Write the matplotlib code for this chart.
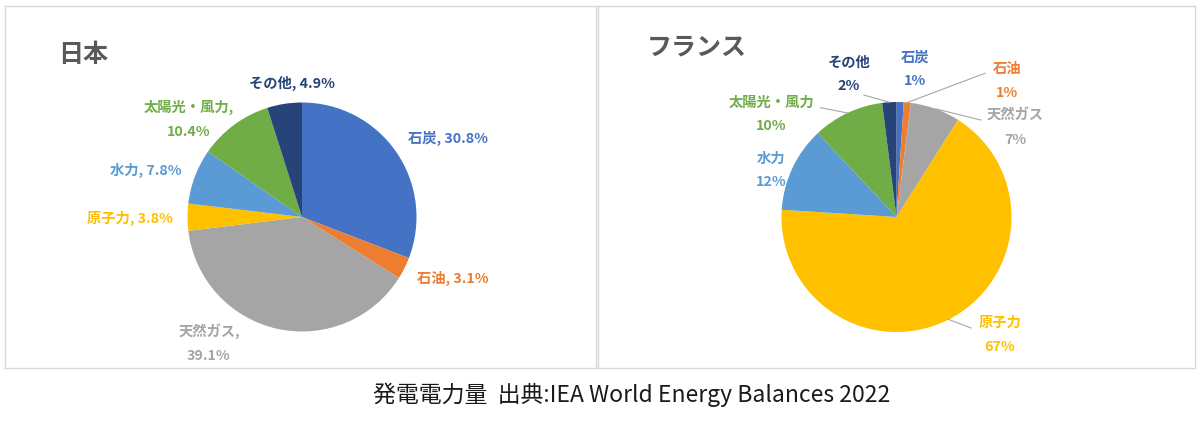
import matplotlib
matplotlib.use("Agg")
import matplotlib.pyplot as plt
import numpy as np

plt.rcParams['font.family'] = ['Noto Sans CJK JP', 'DejaVu Sans']

# data
sources = ['石炭', '石油', '天然ガス', '原子力', '水力', '太陽光・風力', 'その他']
japan = [30.8, 3.1, 39.1, 3.8, 7.8, 10.4, 4.9]
france = [1, 1, 7, 67, 12, 10, 2]
colors = ['#4472C4', '#ED7D31', '#A5A5A5', '#FFC000', '#5B9BD5', '#70AD47', '#264478']

# label layout (pie radius units)
jp_label_pos = [(1.275, 0.69), (1.319, -0.541), (-0.812, -1.10), (-1.502, -0.009),
                (-1.362, 0.41), (-0.991, 0.852), (-0.087, 1.17)]
jp_wrap = ['天然ガス', '太陽光・風力']
fr_label_pos = [(0.157, 1.283), (0.961, 1.183), (1.03, 0.778), (0.90, -1.026),
                (-1.091, 0.404), (-1.091, 0.891), (-0.413, 1.239)]
# leader line end points for france, None = no line
fr_leader_end = [None, (0.77, 1.25), (0.735, 0.843), (0.648, -0.965),
                 None, (-0.66, 0.95), (-0.283, 1.06)]

fig = plt.figure(figsize=(12, 4.26), dpi=100)
W, H = 1200, 426


def finish(ax, xlim, ylim):
    ax.set_xlim(*xlim)
    ax.set_ylim(*ylim)
    ax.set_aspect('auto')
    ax.set_frame_on(True)
    ax.set_xticks([])
    ax.set_yticks([])
    for s in ax.spines.values():
        s.set_color('#D9D9D9')
        s.set_linewidth(1)


# japan panel
ax1 = fig.add_axes([5 / W, (H - 368) / H, 591 / W, 362 / H])
w1, _ = ax1.pie(japan, colors=colors, startangle=90, counterclock=False, radius=1)
finish(ax1, ((5 - 302) / 114.5, (596 - 302) / 114.5), ((217 - 368) / 114.5, (217 - 6) / 114.5))
for name, val, c, (x, y) in zip(sources, japan, colors, jp_label_pos):
    sep = ',\n' if name in jp_wrap else ', '
    ax1.text(x, y, f'{name}{sep}{val:.1f}%', color=c, fontsize=10.3, fontweight='bold',
             ha='center', va='center', linespacing=1.9)
ax1.text(0.132, 0.865, '日本', transform=ax1.transAxes, fontsize=18, fontweight='bold',
         color='#595959', ha='center', va='center')

# france panel
ax2 = fig.add_axes([598 / W, (H - 368) / H, 597 / W, 362 / H])
w2, _ = ax2.pie(france, colors=colors, startangle=90, counterclock=False, radius=1)
finish(ax2, ((598 - 896.5) / 115, (1195 - 896.5) / 115), ((217 - 368) / 115, (217 - 6) / 115))
for wedge, name, val, c, (x, y), end in zip(w2, sources, france, colors, fr_label_pos, fr_leader_end):
    ax2.text(x, y, f'{name}\n{val}%', color=c, fontsize=10.3, fontweight='bold',
             ha='center', va='center', linespacing=1.9)
    if end is not None:
        mid = np.deg2rad((wedge.theta1 + wedge.theta2) / 2)
        ax2.plot([np.cos(mid), end[0]], [np.sin(mid), end[1]], color='#A6A6A6', lw=0.8)
ax2.text(0.166, 0.884, 'フランス', transform=ax2.transAxes, fontsize=18, fontweight='bold',
         color='#595959', ha='center', va='center')

fig.text(632 / W, 1 - 395 / H, '発電電力量  出典:IEA World Energy Balances 2022',
         fontsize=16.5, color='#1a1a1a', ha='center', va='center')

fig.savefig('out.png', dpi=100)
